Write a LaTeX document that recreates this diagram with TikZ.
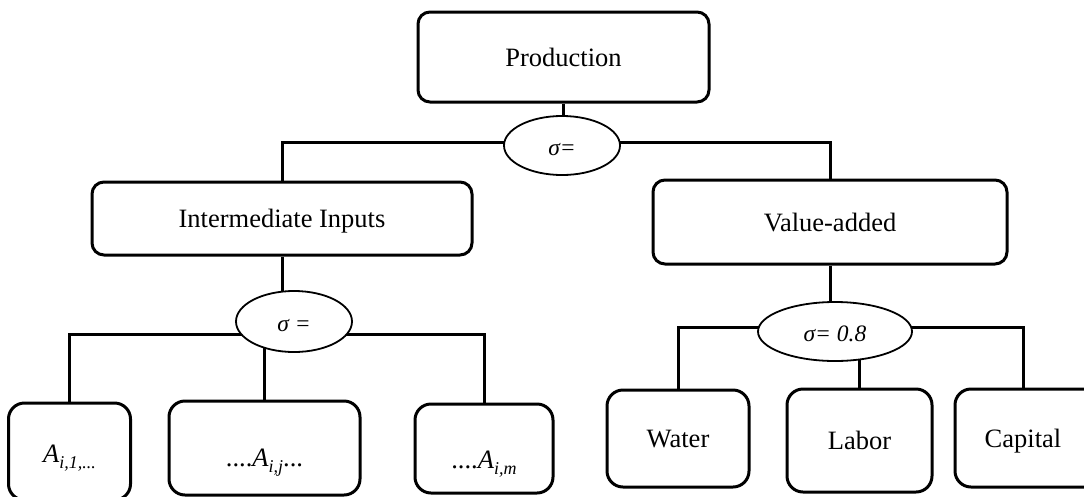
\documentclass[tikz,border=0pt]{standalone}
\usepackage{fontspec}
\setmainfont{Liberation Serif}
\usetikzlibrary{shapes.geometric,backgrounds}

% lowered italic index after a symbol
\newcommand{\idx}[1]{\raisebox{-6pt}{\fontsize{18}{18}\selectfont\itshape #1}}

\begin{document}
\begin{tikzpicture}[x=1pt,y=-1pt,
  box/.style={draw, line width=3pt, rounded corners=12pt, fill=white,
    inner sep=0pt, font=\fontsize{26.5}{30}\selectfont,
    text height=18pt, text depth=0pt},
  leaf/.style={box, rounded corners=16pt},
  cesnode/.style={draw, ellipse, line width=1.8pt, fill=white, inner sep=0pt,
    font=\fontsize{23.5}{28}\selectfont\itshape,
    text height=20pt, text depth=0pt},
  link/.style={line width=3pt}
]
\useasboundingbox (0,0) rectangle (1084,496);
\clip (0,0) rectangle (1084,496);

% top level
\node[box, minimum width=291pt, minimum height=90pt] (prod) at (563.5,57) {Production};
\node[cesnode, minimum width=116pt, minimum height=59pt] (e0) at (562,145.5) {σ=};

% second level
\node[box, minimum width=380pt, minimum height=73pt] (inter) at (282,218.5) {Intermediate Inputs};
\node[box, minimum width=354pt, minimum height=84pt] (valadd) at (830,222) {Value-added};

\node[cesnode, minimum width=116pt, minimum height=61pt] (e1) at (294,321.5) {σ =};
\node[cesnode, minimum width=154pt, minimum height=59pt] (e2) at (835,331.5) {σ= 0.8};

% intermediate inputs
\node[leaf, minimum width=122pt, minimum height=97pt, text height=21pt] (a1) at (69.5,451.5)
  {\textit{A}\idx{i,1,...}};
\node[leaf, minimum width=191pt, minimum height=94pt, text height=36pt] (aj) at (264.5,448)
  {....\textit{A}\idx{i,j}...};
\node[leaf, minimum width=138pt, minimum height=89pt, text height=39pt] (am) at (484,448.5)
  {....\textit{A}\idx{i,m}};

% value-added components; the capital box runs past the right edge
\node[leaf, minimum width=142pt, minimum height=97pt] (water) at (678,438.5) {Water};
\node[leaf, minimum width=145pt, minimum height=103pt] (labor) at (859.5,440.5) {Labor};
\node[leaf, minimum width=200pt, minimum height=98pt] (capital) at (1055,438)
  {Capital\hspace*{64pt}};
\coordinate (capstem) at ([xshift=-32pt]capital.north);

% white page and connectors, kept behind the boxes and ellipses
\begin{pgfonlayer}{background}
  \fill[white] (0,0) rectangle (1084,496);

  \draw[link] (prod.south) -- (prod.south |- e0.center);
  \draw[link] ([yshift=3.5pt]e0.center) -| (inter.north);
  \draw[link] ([yshift=3.5pt]e0.center) -| (valadd.north);

  \draw[link] (inter.south) -- (inter.south |- e1.center);
  \draw[link] ([yshift=-13pt]e1.center) -| (a1.north);
  \draw[link] (aj.north |- e1.center) -- (aj.north);
  \draw[link] ([yshift=-13pt]e1.center) -| (am.north);

  \draw[link] (valadd.south) -- (valadd.south |- e2.center);
  \draw[link] ([yshift=4.5pt]e2.center) -| (water.north);
  \draw[link] (labor.north |- e2.center) -- (labor.north);
  \draw[link] ([yshift=4.5pt]e2.center) -| (capstem);
\end{pgfonlayer}
\end{tikzpicture}
\end{document}
